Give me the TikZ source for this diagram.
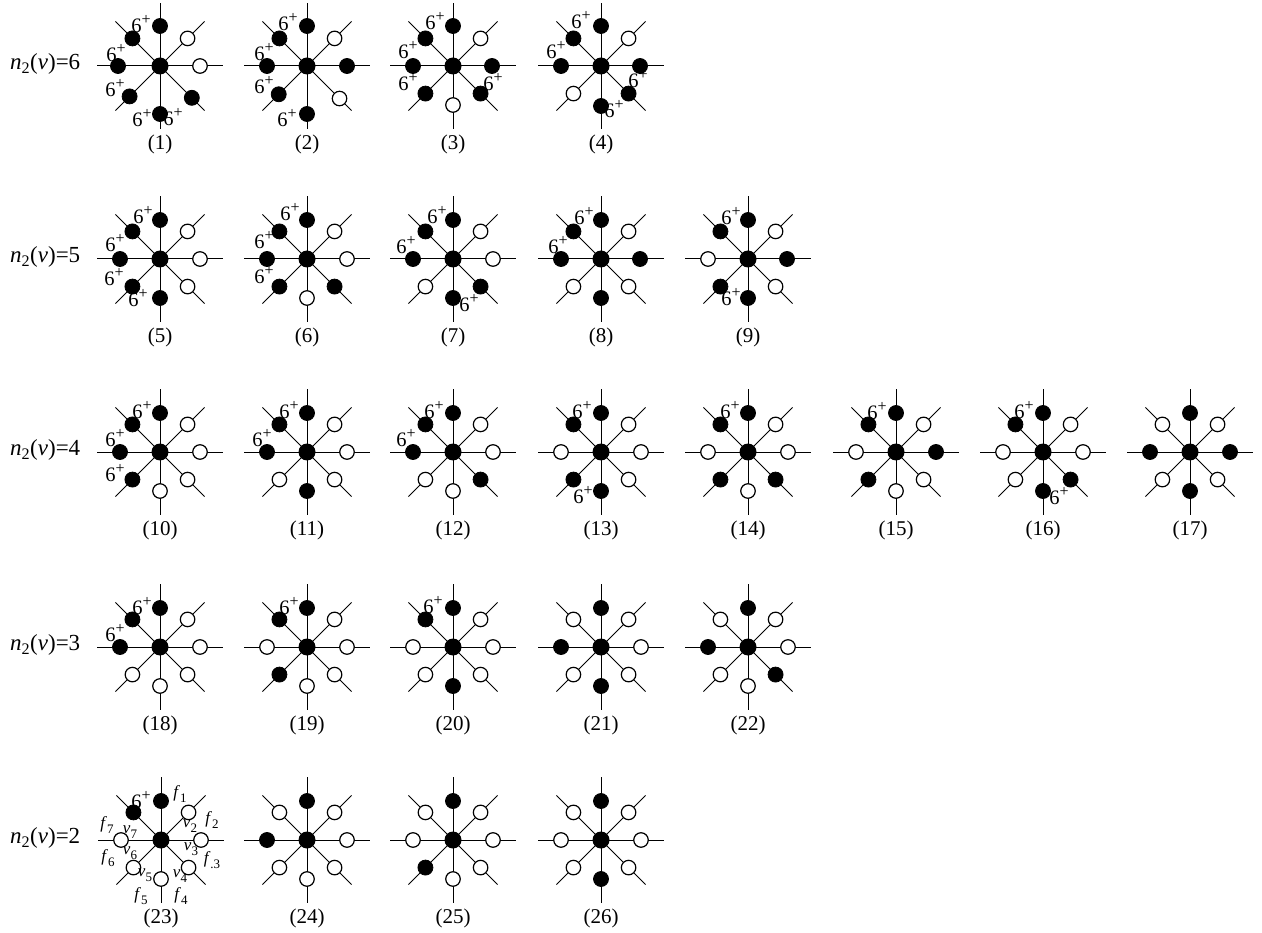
\documentclass[tikz,border=0pt]{standalone}
\usepackage{fontspec}
\setmainfont{Liberation Serif}
\usetikzlibrary{calc}
\tikzset{
  spoke/.style={line width=1pt},
  Bdot/.style={circle,fill=black,draw=black,line width=0.8pt,minimum size=15pt,inner sep=0pt},
  Wdot/.style={circle,fill=white,draw=black,line width=1.2pt,minimum size=14.5pt,inner sep=0pt},
  cdot/.style={circle,fill=black,minimum size=17pt,inner sep=0pt},
  six/.style={inner sep=0pt,font=\fontsize{20.5}{20.5}\selectfont},
  num/.style={inner sep=0pt,font=\fontsize{21}{21}\selectfont},
  rowlab/.style={inner sep=0pt,anchor=west,font=\fontsize{23}{23}\selectfont},
  fv/.style={inner sep=0pt,font=\fontsize{17}{17}\selectfont},
}
\newcommand\sub[1]{\raisebox{-0.3em}{\fontsize{13}{13}\selectfont #1}}
% #1 name, #2 x, #3 y, #4 list colour/radius for N,NE,E,SE,S,SW,W,NW, #5 number
\newcommand\drawstar[5]{%
  \coordinate (#1c) at (#2,#3);
  \foreach \k in {0,...,7} {
    \pgfmathsetmacro\ang{90-45*\k}
    \coordinate (#1e\k) at ($(#1c)+(\ang:63pt)$);
    \draw[spoke] (#1c) -- (#1e\k);
  }
  \foreach \cc/\rr [count=\k from 0] in {#4} {
    \pgfmathsetmacro\ang{90-45*\k}
    \node[\cc dot] (#1d\k) at ($(#1c)+(\ang:\rr pt)$) {};
  }
  \node[cdot] (#1) at (#1c) {};
  \node[num] (#1n) at ($(#1c)+(0,78)$) {(#5)};
}
\newcommand\six[3]{\node[six] (#2p#1) at ($(#2c)+#3$) {6\raisebox{0.42em}{\fontsize{16}{16}\selectfont+}};}
\begin{document}
\begin{tikzpicture}[x=1pt,y=-1pt]
\useasboundingbox (0,0) rectangle (1262,933);
% row labels
\node[rowlab] (r6) at (10,64) {\textit{n}\textsubscript{2}(\textit{v})=6};
\node[rowlab] (r5) at (10,257) {\textit{n}\textsubscript{2}(\textit{v})=5};
\node[rowlab] (r4) at (10,450) {\textit{n}\textsubscript{2}(\textit{v})=4};
\node[rowlab] (r3) at (10,645) {\textit{n}\textsubscript{2}(\textit{v})=3};
\node[rowlab] (r2) at (10,838) {\textit{n}\textsubscript{2}(\textit{v})=2};
% row 1
\drawstar{s1}{160}{66}{B/40,W/39,W/40,B/45,B/48,B/43,B/42,B/39}{1}
\six{a}{s1}{(-19,-42)}\six{b}{s1}{(-44,-13)}\six{c}{s1}{(-45,22)}
\six{d}{s1}{(-18,52)}\six{e}{s1}{(13,51)}
\drawstar{s2}{307}{66}{B/40,W/39,B/40,W/46,B/48,B/40,B/40,B/39}{2}
\six{a}{s2}{(-19,-44)}\six{b}{s2}{(-43,-14)}\six{c}{s2}{(-43,19)}
\six{d}{s2}{(-20,52)}
\drawstar{s3}{453}{66}{B/40,W/39,B/39,B/39,W/39,B/39,B/40,B/39}{3}
\six{a}{s3}{(-18,-45)}\six{b}{s3}{(-45,-16)}\six{c}{s3}{(-45,16)}
\six{d}{s3}{(40,16)}
\drawstar{s4}{601}{66}{B/40,W/39,B/39,B/39,B/40,W/39,B/40,B/39}{4}
\six{a}{s4}{(-20,-46)}\six{b}{s4}{(-45,-16)}\six{c}{s4}{(37,13)}
\six{d}{s4}{(13,43)}
% row 2
\drawstar{s5}{160}{259}{B/39,W/39,W/40,W/39,B/39,B/39,B/40,B/39}{5}
\six{a}{s5}{(-17,-44)}\six{b}{s5}{(-45,-16)}\six{c}{s5}{(-46,18)}
\six{d}{s5}{(-22,39)}
\drawstar{s6}{307}{259}{B/39,W/39,W/40,B/39,W/39,B/39,B/40,B/39}{6}
\six{a}{s6}{(-17,-47)}\six{b}{s6}{(-43,-19)}\six{c}{s6}{(-43,16)}
\drawstar{s7}{453}{259}{B/39,W/39,W/40,B/39,B/39,W/39,B/40,B/39}{7}
\six{a}{s7}{(-16,-44)}\six{b}{s7}{(-47,-14)}\six{c}{s7}{(16,44)}
\drawstar{s8}{601}{259}{B/39,W/39,B/39,W/39,B/39,W/39,B/40,B/39}{8}
\six{a}{s8}{(-17,-43)}\six{b}{s8}{(-43,-14)}
\drawstar{s9}{748}{259}{B/39,W/39,B/39,W/39,B/39,B/39,W/40,B/39}{9}
\six{a}{s9}{(-17,-43)}\six{b}{s9}{(-17,38)}
% row 3
\drawstar{s10}{160}{452}{B/39,W/39,W/40,W/39,W/39,B/39,B/40,B/39}{10}
\six{a}{s10}{(-18,-42)}\six{b}{s10}{(-45,-14)}\six{c}{s10}{(-45,21)}
\drawstar{s11}{307}{452}{B/39,W/39,W/40,W/39,B/39,W/39,B/40,B/39}{11}
\six{a}{s11}{(-18,-42)}\six{b}{s11}{(-45,-14)}
\drawstar{s12}{453}{452}{B/39,W/39,W/40,B/39,W/39,W/39,B/40,B/39}{12}
\six{a}{s12}{(-19,-42)}\six{b}{s12}{(-47,-14)}
\drawstar{s13}{601}{452}{B/39,W/39,W/40,W/39,B/39,B/39,W/40,B/39}{13}
\six{a}{s13}{(-19,-42)}\six{b}{s13}{(-18,43)}
\drawstar{s14}{748}{452}{B/39,W/39,W/40,B/39,W/39,B/39,W/40,B/39}{14}
\six{a}{s14}{(-18,-42)}
\drawstar{s15}{896}{452}{B/39,W/39,B/40,W/39,W/39,B/39,W/40,B/39}{15}
\six{a}{s15}{(-19,-41)}
\drawstar{s16}{1043}{452}{B/39,W/39,W/40,B/39,B/39,W/39,W/40,B/39}{16}
\six{a}{s16}{(-19,-42)}\six{b}{s16}{(16,44)}
\drawstar{s17}{1190}{452}{B/39,W/39,B/40,W/39,B/39,W/39,B/40,W/39}{17}
% row 4
\drawstar{s18}{160}{647}{B/39,W/39,W/40,W/39,W/39,W/39,B/40,B/39}{18}
\six{a}{s18}{(-18,-41)}\six{b}{s18}{(-45,-14)}
\drawstar{s19}{307}{647}{B/39,W/39,W/40,W/39,W/39,B/39,W/40,B/39}{19}
\six{a}{s19}{(-18,-41)}
\drawstar{s20}{453}{647}{B/39,W/39,W/40,W/39,B/39,W/39,W/40,B/39}{20}
\six{a}{s20}{(-20,-42)}
\drawstar{s21}{601}{647}{B/39,W/39,W/40,W/39,B/39,W/39,B/40,W/39}{21}
\drawstar{s22}{748}{647}{B/39,W/39,W/40,B/39,W/39,W/39,B/40,W/39}{22}
% row 5
\drawstar{s23}{161}{840}{B/39,W/39,W/40,W/39,W/39,W/39,W/40,B/39}{23}
\six{a}{s23}{(-20,-40)}
\node[fv] (f1) at ($(s23c)+(19,-46)$) {\textit{f}\sub{1}};
\node[fv] (f2) at ($(s23c)+(51,-20)$) {\textit{f}\sub{2}};
\node[fv] (f3) at ($(s23c)+(51,20)$) {\textit{f}\sub{.3}};
\node[fv] (f4) at ($(s23c)+(20,56)$) {\textit{f}\sub{4}};
\node[fv] (f5) at ($(s23c)+(-20,56)$) {\textit{f}\sub{5}};
\node[fv] (f6) at ($(s23c)+(-53,18)$) {\textit{f}\sub{6}};
\node[fv] (f7) at ($(s23c)+(-54,-15)$) {\textit{f}\sub{7}};
\node[fv] (v2) at ($(s23c)+(29,-14)$) {\textit{v}\sub{2}};
\node[fv] (v3) at ($(s23c)+(30,9)$) {\textit{v}\sub{3}};
\node[fv] (v4) at ($(s23c)+(19,36)$) {\textit{v}\sub{4}};
\node[fv] (v5) at ($(s23c)+(-16,35)$) {\textit{v}\sub{5}};
\node[fv] (v6) at ($(s23c)+(-31,13)$) {\textit{v}\sub{6}};
\node[fv] (v7) at ($(s23c)+(-31,-8)$) {\textit{v}\sub{7}};
\drawstar{s24}{307}{840}{B/39,W/39,W/40,W/39,W/39,W/39,B/40,W/39}{24}
\drawstar{s25}{453}{840}{B/39,W/39,W/40,W/39,W/39,B/39,W/40,W/39}{25}
\drawstar{s26}{601}{840}{B/39,W/39,W/40,W/39,B/39,W/39,W/40,W/39}{26}
\end{tikzpicture}
\end{document}
